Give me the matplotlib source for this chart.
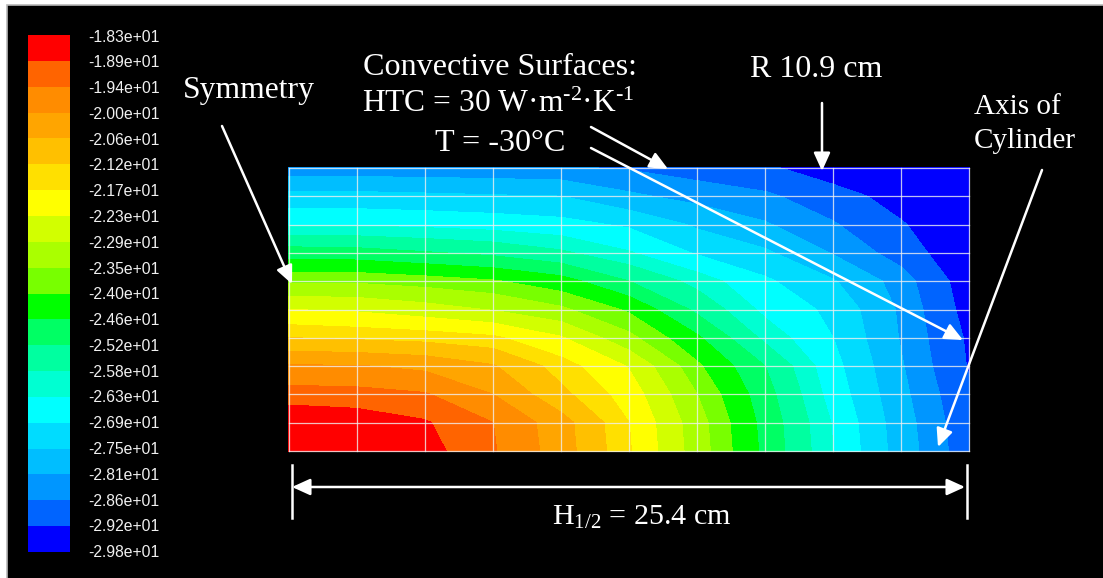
import numpy as np
import matplotlib
matplotlib.use('Agg')
import matplotlib.pyplot as plt
from matplotlib.patches import Rectangle

# colour scale, top of the legend first
scale_labels = ['-1.83e+01', '-1.89e+01', '-1.94e+01', '-2.00e+01', '-2.06e+01', '-2.12e+01', '-2.17e+01',
                '-2.23e+01', '-2.29e+01', '-2.35e+01', '-2.40e+01', '-2.46e+01', '-2.52e+01', '-2.58e+01',
                '-2.63e+01', '-2.69e+01', '-2.75e+01', '-2.81e+01', '-2.86e+01', '-2.92e+01', '-2.98e+01']
band_colors = ['#FF0000', '#FF6400', '#FF8C00', '#FFA500', '#FFC000', '#FFE000', '#FFFF00',
               '#D2FF00', '#AAFF00', '#78FF00', '#00FF00', '#00FF64', '#00FFA0', '#00FFD2',
               '#00FFFF', '#00DCFF', '#00BEFF', '#0096FF', '#0064FF', '#0000FF']

# nodal temperatures, top row first, left to right
row_1 = [-28.45, -28.45, -28.47, -28.50, -28.55, -28.65, -28.85, -29.10, -29.55, -29.75, -29.75]
row_2 = [-27.30, -27.32, -27.38, -27.45, -27.50, -28.00, -28.30, -28.50, -28.95, -29.45, -29.75]
row_3 = [-26.35, -26.38, -26.45, -26.55, -26.70, -27.00, -27.60, -28.05, -28.55, -29.15, -29.75]
row_4 = [-24.90, -24.95, -25.15, -25.35, -25.70, -26.25, -26.97, -27.40, -28.15, -28.85, -29.75]
row_5 = [-23.60, -23.60, -23.75, -23.95, -24.35, -25.20, -26.00, -26.80, -27.45, -28.35, -29.55]
row_6 = [-22.30, -22.40, -22.65, -22.95, -23.40, -24.10, -25.35, -26.45, -27.05, -28.20, -29.45]
row_7 = [-21.20, -21.30, -21.40, -21.60, -22.25, -23.35, -24.50, -25.95, -26.90, -28.15, -29.30]
row_8 = [-19.95, -19.97, -20.15, -20.55, -21.45, -22.35, -23.90, -25.20, -26.70, -28.05, -29.25]
row_9 = [-19.15, -19.20, -19.35, -20.00, -21.05, -21.97, -23.50, -24.95, -26.55, -27.95, -29.10]
row_10 = [-18.50, -18.60, -18.85, -19.40, -20.35, -21.70, -23.25, -24.80, -26.35, -27.85, -29.00]
row_11 = [-18.35, -18.40, -18.70, -19.35, -20.30, -21.65, -23.20, -24.75, -26.30, -27.80, -28.95]

temps = np.array([row_1, row_2, row_3, row_4, row_5, row_6, row_7, row_8, row_9, row_10, row_11])
levels = np.array([float(s) for s in scale_labels[::-1]])

plt.rcParams['font.family'] = ['Liberation Serif', 'DejaVu Sans']
plt.rcParams['mathtext.fontset'] = 'custom'
plt.rcParams['mathtext.rm'] = 'Liberation Serif'
plt.rcParams['mathtext.it'] = 'Liberation Serif'

fig = plt.figure(figsize=(11.03, 5.78), dpi=100, facecolor='white')
# whole-figure axes counted in image pixels, y going down
ax = fig.add_axes([0, 0, 1, 1])
ax.set_xlim(0, 1103)
ax.set_ylim(578, 0)
ax.axis('off')

ax.add_patch(Rectangle((7, 5), 1100, 580, facecolor='black', edgecolor='#b8b8b8', linewidth=1.2))

# contour field and its mesh
x_nodes = np.linspace(289, 969, temps.shape[1])
y_nodes = np.linspace(168, 451, temps.shape[0])
cs = ax.contourf(x_nodes, y_nodes, temps, levels=levels, colors=band_colors[::-1])
cs.set_edgecolor('face')
cs.set_linewidth(0.3)
for x in x_nodes:
    ax.plot([x, x], [y_nodes[0], y_nodes[-1]], color='#f0f0f0', alpha=0.8, lw=0.9)
for y in y_nodes:
    ax.plot([x_nodes[0], x_nodes[-1]], [y, y], color='#f0f0f0', alpha=0.8, lw=0.9)

# legend bar
bar_top = 35
band_h = 25.85
ax.bar([49] * len(band_colors), [band_h] * len(band_colors),
       bottom=bar_top + band_h * np.arange(len(band_colors)), width=42, color=band_colors)
for i, lab in enumerate(scale_labels):
    ax.text(88, 37 + 25.78 * i, lab, color='#f0f0f0', fontsize=11.3, family='Liberation Sans',
            ha='left', va='center')

# annotations
ax.text(183, 98, 'Symmetry', color='white', fontsize=22.8, va='baseline')
ax.text(363, 75, 'Convective Surfaces:', color='white', fontsize=23.1, va='baseline')
ax.text(362, 112, 'HTC = 30 W·m$^{\u20102}$·K$^{\u20101}$', color='white', fontsize=22.7, va='baseline')
ax.text(435, 151, 'T = -30°C', color='white', fontsize=23.1, va='baseline')
ax.text(750, 77, 'R 10.9 cm', color='white', fontsize=23, va='baseline')
ax.text(974, 114, 'Axis of', color='white', fontsize=21, va='baseline')
ax.text(974, 148, 'Cylinder', color='white', fontsize=21, va='baseline')
ax.text(552, 525, r'H$_{1/2}$ = 25.4 cm', color='white', fontsize=21.6, va='baseline')


def arrow(start, end, style='-|>'):
    ax.annotate('', xy=end, xytext=start,
                arrowprops=dict(arrowstyle=style + ',head_length=11,head_width=5', mutation_scale=1,
                                color='white', lw=1.8, shrinkA=0, shrinkB=0))


arrow((222, 126), (292, 284))
arrow((591, 127), (668, 169))
arrow((591, 148), (963, 340))
arrow((822, 103), (822, 171))
arrow((1042, 170), (938, 447))
arrow((292, 487), (965, 487), style='<|-|>')
ax.plot([291.5, 291.5], [465, 518], color='white', lw=1.8)
ax.plot([967, 967], [465, 518], color='white', lw=1.8)

fig.savefig('out.png', dpi=100, facecolor='white')
